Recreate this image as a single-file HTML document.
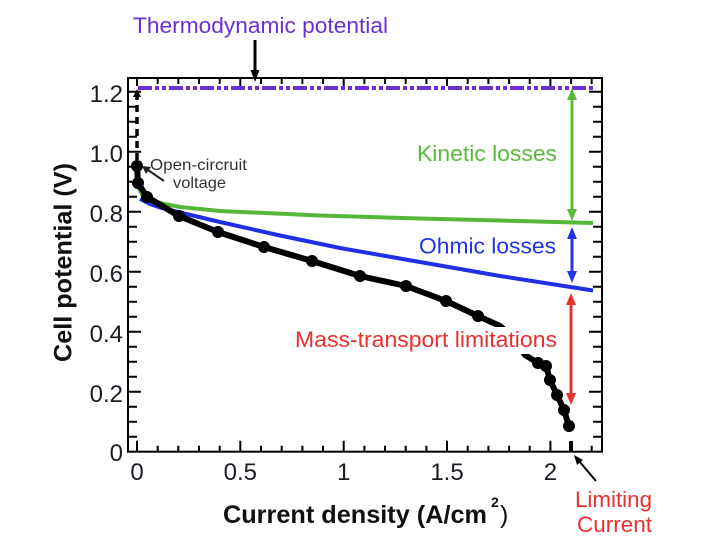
<!DOCTYPE html>
<html><head><meta charset="utf-8"><style>
html,body{margin:0;padding:0;background:#fff;}
svg{display:block;}
text{font-family:"Liberation Sans",Arial,sans-serif;}
</style></head><body>
<svg width="720" height="549" viewBox="0 0 720 549" xmlns="http://www.w3.org/2000/svg">
<rect width="720" height="549" fill="#fff"/>
<!-- frame -->
<rect x="128" y="78" width="474" height="373.7" fill="none" stroke="#000" stroke-width="2"/>
<!-- ticks -->
<path fill="none" stroke="#000" stroke-width="2" d="
M128 436.7h9M128 421.7h9M128 406.7h9M128 391.7h13M128 376.7h9M128 361.7h9M128 346.7h9M128 331.7h13M128 316.7h9M128 301.7h9M128 286.7h9M128 271.7h13M128 256.7h9M128 241.7h9M128 226.7h9M128 211.7h13M128 196.7h9M128 181.7h9M128 166.7h9M128 151.7h13M128 136.7h9M128 121.7h9M128 106.7h9M128 91.7h13
M602 436.7h-9M602 421.7h-9M602 406.7h-9M602 391.7h-13M602 376.7h-9M602 361.7h-9M602 346.7h-9M602 331.7h-13M602 316.7h-9M602 301.7h-9M602 286.7h-9M602 271.7h-13M602 256.7h-9M602 241.7h-9M602 226.7h-9M602 211.7h-13M602 196.7h-9M602 181.7h-9M602 166.7h-9M602 151.7h-13M602 136.7h-9M602 121.7h-9M602 106.7h-9M602 91.7h-13
M137 451.7v-11M157.7 451.7v-6M178.3 451.7v-6M199 451.7v-6M219.7 451.7v-6M240.3 451.7v-11M261 451.7v-6M281.7 451.7v-6M302.4 451.7v-6M323 451.7v-6M343.7 451.7v-11M364.4 451.7v-6M385 451.7v-6M405.7 451.7v-6M426.4 451.7v-6M447 451.7v-11M467.7 451.7v-6M488.4 451.7v-6M509.1 451.7v-6M529.7 451.7v-6M550.4 451.7v-11M571.1 451.7v-6M591.7 451.7v-6
M137 78v8M157.7 78v6M178.3 78v6M199 78v6M219.7 78v6M240.3 78v8M261 78v6M281.7 78v6M302.4 78v6M323 78v6M343.7 78v8M364.4 78v6M385 78v6M405.7 78v6M426.4 78v6M447 78v8M467.7 78v6M488.4 78v6M509.1 78v6M529.7 78v6M550.4 78v8M571.1 78v6M591.7 78v6"/>

<!-- tick labels -->
<g font-size="24" fill="#1c1c28" text-anchor="end">
<text x="123" y="102">1.2</text>
<text x="123" y="162">1.0</text>
<text x="123" y="222">0.8</text>
<text x="123" y="282">0.6</text>
<text x="123" y="342">0.4</text>
<text x="123" y="402">0.2</text>
<text x="123" y="461">0</text>
</g>
<g font-size="24" fill="#1c1c28" text-anchor="middle">
<text x="137" y="480">0</text>
<text x="240.3" y="480">0.5</text>
<text x="343.7" y="480">1</text>
<text x="447" y="480">1.5</text>
<text x="550.4" y="480">2</text>
</g>

<!-- axis labels -->
<text x="223" y="523" font-size="25" font-weight="bold" fill="#111" textLength="264" lengthAdjust="spacingAndGlyphs">Current density (A/cm</text>
<text x="491" y="507" font-size="14" font-weight="bold" fill="#111">2</text>
<text x="500" y="523" font-size="25" fill="#111">)</text>
<text transform="translate(71.5,262.5) rotate(-90)" text-anchor="middle" font-size="25" font-weight="bold" fill="#111" textLength="199" lengthAdjust="spacingAndGlyphs">Cell potential (V)</text>

<!-- thermodynamic line -->
<line x1="138" y1="88" x2="593" y2="88" stroke="#6a2fd6" stroke-width="4" stroke-dasharray="14 3 4 3 4 3"/>
<!-- dashed vertical OCV line -->
<line x1="137" y1="93" x2="137" y2="166" stroke="#000" stroke-width="3.5" stroke-dasharray="7 5"/>
<polygon points="137,89 133,97 141,97" fill="#000"/>

<!-- green kinetic curve -->
<polyline fill="none" stroke="#55b83a" stroke-width="4" stroke-linejoin="round" points="137,185 142,194 150,200 165,204 180,207 220,211 320,215.5 420,218.5 500,220.5 593,223"/>
<!-- blue ohmic line -->
<polyline fill="none" stroke="#1f30e4" stroke-width="4" stroke-linejoin="round" points="140,199 150,204 160,207.5 178,212 220,222 280,235.5 340,248 420,262 500,276 593,290.5"/>

<!-- black data curve -->
<polyline fill="none" stroke="#000" stroke-width="6" stroke-linejoin="round" points="137,166 138,183 147,197 179,216 218,232 264,247 312,261 360,276 406,286 446,301 478,316 500,326 514,338 525,355 538,363 546,366 550,380 557,395 564,410 569,426"/>
<g fill="#000">
<circle cx="137" cy="166" r="6"/>
<circle cx="138" cy="183" r="6"/>
<circle cx="147" cy="197" r="6"/>
<circle cx="179" cy="216" r="6"/>
<circle cx="218" cy="232" r="6"/>
<circle cx="264" cy="247" r="6"/>
<circle cx="312" cy="261" r="6"/>
<circle cx="360" cy="276" r="6"/>
<circle cx="406" cy="286" r="6"/>
<circle cx="446" cy="301" r="6"/>
<circle cx="478" cy="316" r="6"/>
<circle cx="538" cy="363" r="6"/>
<circle cx="546" cy="366" r="6"/>
<circle cx="550" cy="380" r="6"/>
<circle cx="557" cy="395" r="6"/>
<circle cx="564" cy="410" r="6"/>
<circle cx="569" cy="426" r="6"/>
</g>
<line x1="571" y1="441" x2="571" y2="451" stroke="#000" stroke-width="4"/>

<!-- double arrows -->
<line x1="572" y1="98" x2="572" y2="211" stroke="#5cb83c" stroke-width="3"/>
<polygon points="572,88 567,100 577,100" fill="#5cb83c"/>
<polygon points="572,221 567,209 577,209" fill="#5cb83c"/>
<line x1="572" y1="236" x2="572" y2="274" stroke="#1f35e6" stroke-width="3"/>
<polygon points="572,227 567,239 577,239" fill="#1f35e6"/>
<polygon points="572,283 567,271 577,271" fill="#1f35e6"/>
<line x1="571" y1="302" x2="571" y2="396" stroke="#e8312f" stroke-width="3"/>
<polygon points="571,293 566,305 576,305" fill="#e8312f"/>
<polygon points="571,405 566,393 576,393" fill="#e8312f"/>

<!-- thermodynamic arrow -->
<line x1="255" y1="40" x2="255" y2="72" stroke="#000" stroke-width="3"/>
<polygon points="255,82 250.5,70 259.5,70" fill="#000"/>
<!-- OCV arrow -->
<line x1="164" y1="181" x2="148" y2="170" stroke="#222" stroke-width="2"/>
<polygon points="142,166 151,167 146,174" fill="#222"/>
<!-- limiting current arrow -->
<line x1="596" y1="481" x2="579" y2="461" stroke="#000" stroke-width="2"/>
<polygon points="574,455 583,460 577,465" fill="#000"/>

<!-- texts -->
<text x="133" y="33" font-size="22.5" fill="#6a2fd6" textLength="255" lengthAdjust="spacingAndGlyphs">Thermodynamic potential</text>
<text x="417" y="161" font-size="22.5" fill="#5cb83c" textLength="140" lengthAdjust="spacingAndGlyphs">Kinetic losses</text>
<text x="419" y="253.5" font-size="22.5" fill="#1f35e6" textLength="137" lengthAdjust="spacingAndGlyphs">Ohmic losses</text>
<rect x="292" y="327" width="267" height="27" fill="#fff"/>
<text x="295" y="347" font-size="22.5" fill="#e8312f" textLength="262" lengthAdjust="spacingAndGlyphs">Mass-transport limitations</text>
<text x="575" y="507" font-size="22" fill="#e8312f" textLength="77" lengthAdjust="spacingAndGlyphs">Limiting</text>
<text x="577" y="532" font-size="22" fill="#e8312f" textLength="75" lengthAdjust="spacingAndGlyphs">Current</text>
<text x="150" y="170" font-size="16" fill="#333" textLength="97" lengthAdjust="spacingAndGlyphs">Open-circruit</text>
<text x="173" y="188" font-size="16" fill="#333" textLength="53" lengthAdjust="spacingAndGlyphs">voltage</text>
</svg>
</body></html>
